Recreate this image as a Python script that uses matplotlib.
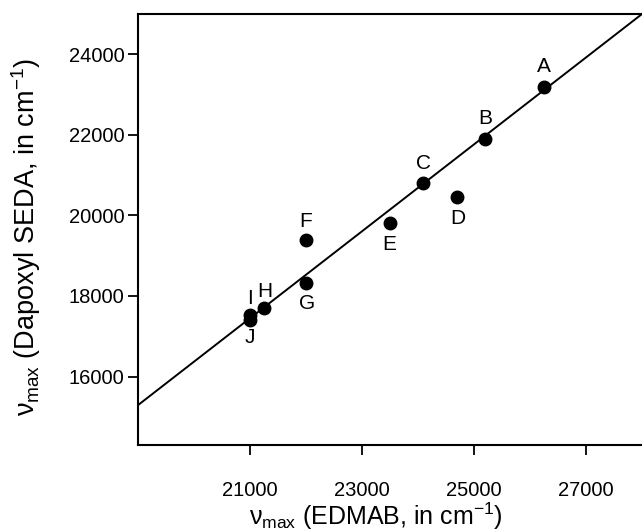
import numpy as np
import matplotlib
matplotlib.use("Agg")
import matplotlib.pyplot as plt

plt.rcParams['font.family'] = ['Liberation Sans', 'DejaVu Sans']
plt.rcParams['mathtext.fontset'] = 'custom'
plt.rcParams['mathtext.rm'] = 'Liberation Sans'
plt.rcParams['mathtext.it'] = 'Liberation Sans'

# data
labels = ['A', 'B', 'C', 'D', 'E', 'F', 'G', 'H', 'I', 'J']
edmab = [26250, 25200, 24100, 24700, 23500, 22000, 22000, 21250, 21000, 21000]
seda = [23200, 21900, 20800, 20450, 19800, 19400, 18330, 17700, 17520, 17400]

# fitted line as drawn in the picture
fit_slope = 1.08
fit_intercept = -5240

# label offsets in pixels (dx, dy), up is positive
offsets = {
    'A': (0, 20), 'B': (0, 20), 'C': (0, 20), 'D': (1, -21), 'E': (0, -21),
    'F': (0, 18), 'G': (1, -21), 'H': (1, 17), 'I': (0, 17), 'J': (0, -17),
}

fig = plt.figure(figsize=(6.42, 5.31), dpi=100)
ax = fig.add_axes([137.5 / 642, 86 / 531, 504.5 / 642, 431 / 531])

xlim = (19000, 28000)
ylim = (14300, 25000)

xx = np.array(xlim)
ax.plot(xx, fit_slope * xx + fit_intercept, color='black', lw=1.4, zorder=2)
ax.plot(edmab, seda, 'o', color='black', ms=9, zorder=3)

for lab, x, y in zip(labels, edmab, seda):
    dx, dy = offsets[lab]
    ax.annotate(lab, (x, y), xytext=(dx * 0.72, dy * 0.72),
                textcoords='offset points', ha='center', va='center',
                fontsize=15)

ax.set_xlim(*xlim)
ax.set_ylim(*ylim)
ax.set_xticks([21000, 23000, 25000, 27000])
ax.set_yticks([16000, 18000, 20000, 22000, 24000])

for side in ['left', 'bottom', 'top']:
    ax.spines[side].set_linewidth(1.5)
ax.spines['right'].set_visible(False)

ax.tick_params(axis='both', direction='out', length=7, width=1.3,
               labelsize=14.5)
ax.tick_params(axis='x', pad=19)
ax.tick_params(axis='y', pad=2.5)

ax.set_xlabel(r'$\nu_{max}$ (EDMAB, in cm$^{-1}$)', fontsize=18)
ax.set_ylabel(r'$\nu_{max}$ (Dapoxyl SEDA, in cm$^{-1}$)', fontsize=19.5)
ax.xaxis.set_label_coords(0.4727, -0.128)
ax.yaxis.set_label_coords(-0.188, 0.4826)

fig.savefig('out.png', dpi=100)
